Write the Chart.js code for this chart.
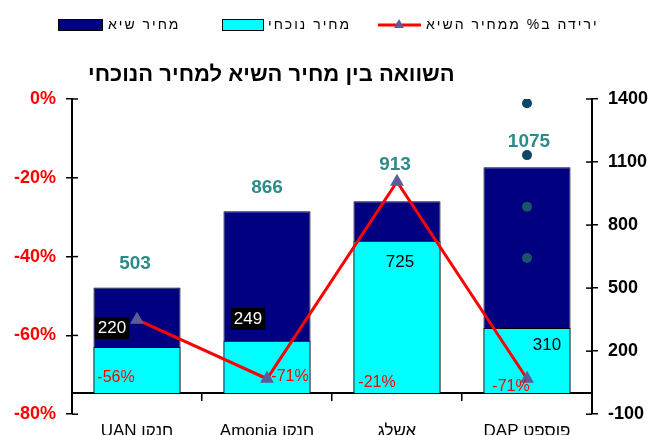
<!DOCTYPE html>
<html>

<head>
    <meta charset="utf-8">
    <title>השוואה בין מחיר השיא למחיר הנוכחי</title>
    <script src="https://cdn.jsdelivr.net/npm/chart.js"></script>
    <style>
        body { margin: 0; background: #fff; }
    </style>
</head>

<body>
    <canvas id="myChart" width="650" height="435"></canvas>
    <script>
        // chart data
        const categories = ['UAN חנקן', 'Amonia חנקן', 'אשלג', 'DAP פוספט'];
        const peakPrice = [503, 866, 913, 1075];
        const currentPrice = [220, 249, 725, 310];
        const dropPct = [-56, -71, -21, -71];
        // the four stray markers standing in the last column
        const strayDots = [1380, 1133, 887, 643];
        const pctTicks = [0, -20, -40, -60, -80];
        const priceTicks = [1400, 1100, 800, 500, 200, -100];

        const FONT = '"Liberation Sans", "DejaVu Sans", Arial, sans-serif';

        // hand placed label offsets (dx, dy) like in the original sheet
        const peakShift = [[-2, -24], [0, -23], [-2, -37], [2, -26]];
        const currentShift = [[-25, -19], [-19, -22], [3, 21], [20, 17]];
        const pctShift = [[-21, 58], [23, -2], [-20, 201], [-16, 8]];

        const labelPlugin = {
            id: 'labelPlugin',
            afterDatasetsDraw(chart) {
                const ctx = chart.ctx;
                ctx.save();
                ctx.textAlign = 'center';
                ctx.textBaseline = 'middle';

                // peak price labels
                ctx.font = 'bold 19px ' + FONT;
                ctx.fillStyle = '#2e8b8b';
                chart.getDatasetMeta(0).data.forEach((bar, i) => {
                    ctx.fillText(peakPrice[i], bar.x + peakShift[i][0], bar.y + peakShift[i][1]);
                });

                // current price labels, first two sit in a black box
                ctx.font = '17px ' + FONT;
                chart.getDatasetMeta(1).data.forEach((bar, i) => {
                    const x = bar.x + currentShift[i][0];
                    const y = bar.y + currentShift[i][1];
                    const txt = String(currentPrice[i]);
                    if (i < 2) {
                        const w = ctx.measureText(txt).width;
                        ctx.fillStyle = '#000';
                        ctx.fillRect(x - w / 2 - 3, y - 11, w + 6, 22);
                        ctx.fillStyle = '#fff';
                    } else {
                        ctx.fillStyle = '#000';
                    }
                    ctx.fillText(txt, x, y);
                });

                // percent labels
                ctx.font = '16px ' + FONT;
                ctx.fillStyle = '#ff0000';
                chart.getDatasetMeta(2).data.forEach((pt, i) => {
                    ctx.fillText(dropPct[i] + '%', pt.x + pctShift[i][0], pt.y + pctShift[i][1]);
                });

                // inner half of the crossing ticks on both value axes
                ctx.strokeStyle = '#000';
                ctx.lineWidth = 1.5;
                const yl = chart.scales.yL, yr = chart.scales.yR;
                yl.ticks.forEach((t, i) => {
                    const y = yl.getPixelForTick(i);
                    ctx.beginPath(); ctx.moveTo(yl.right, y); ctx.lineTo(yl.right + 6, y); ctx.stroke();
                });
                yr.ticks.forEach((t, i) => {
                    const y = yr.getPixelForTick(i);
                    ctx.beginPath(); ctx.moveTo(yr.left - 6, y); ctx.lineTo(yr.left, y); ctx.stroke();
                });
                ctx.restore();
            },
            afterDraw(chart) {
                const ctx = chart.ctx;
                ctx.save();
                ctx.textBaseline = 'middle';
                ctx.textAlign = 'left';
                ctx.strokeStyle = '#000';
                ctx.lineWidth = 1;

                // legend
                ctx.font = '14px ' + FONT;
                ctx.letterSpacing = '2px';
                ctx.fillStyle = '#000080';
                ctx.fillRect(58, 19, 44, 11);
                ctx.strokeRect(58.5, 19.5, 44, 11);
                ctx.fillStyle = '#000';
                ctx.fillText('מחיר שיא', 108, 25);

                ctx.fillStyle = '#00ffff';
                ctx.fillRect(222, 19, 41, 11);
                ctx.strokeRect(222.5, 19.5, 41, 11);
                ctx.fillStyle = '#000';
                ctx.fillText('מחיר נוכחי', 268, 25);

                ctx.strokeStyle = '#ff0000';
                ctx.lineWidth = 3;
                ctx.beginPath(); ctx.moveTo(378, 25); ctx.lineTo(421, 25); ctx.stroke();
                ctx.fillStyle = '#5c5c9a';
                ctx.beginPath(); ctx.moveTo(399, 19); ctx.lineTo(404, 28); ctx.lineTo(394, 28); ctx.closePath(); ctx.fill();
                ctx.fillStyle = '#000';
                ctx.fillText('ירידה ב% ממחיר השיא', 426, 25);

                // title
                ctx.letterSpacing = '0px';
                ctx.font = 'bold 22px ' + FONT;
                ctx.fillText('השוואה בין מחיר השיא למחיר הנוכחי', 88, 75);
                ctx.restore();
            }
        };

        const config = {
            data: {
                labels: categories,
                datasets: [{
                    type: 'bar',
                    label: 'מחיר שיא',
                    data: peakPrice,
                    yAxisID: 'yR',
                    grouped: false,
                    order: 4,
                    backgroundColor: '#000080',
                    borderColor: '#000',
                    borderWidth: 1,
                    barPercentage: 0.67,
                    categoryPercentage: 1
                }, {
                    type: 'bar',
                    label: 'מחיר נוכחי',
                    data: currentPrice,
                    yAxisID: 'yR',
                    grouped: false,
                    order: 3,
                    backgroundColor: '#00ffff',
                    borderColor: '#000',
                    borderWidth: 1,
                    barPercentage: 0.67,
                    categoryPercentage: 1
                }, {
                    type: 'line',
                    label: 'ירידה ב% ממחיר השיא',
                    data: dropPct,
                    yAxisID: 'yL',
                    order: 1,
                    borderColor: '#ff0000',
                    borderWidth: 3,
                    tension: 0,
                    pointStyle: 'triangle',
                    pointRadius: 5,
                    pointBackgroundColor: '#5c5c9a',
                    pointBorderColor: '#5c5c9a'
                }, {
                    type: 'line',
                    label: 'dots',
                    data: strayDots.map(v => ({ x: categories[3], y: v })),
                    yAxisID: 'yR',
                    order: 0,
                    showLine: false,
                    pointRadius: 5,
                    pointBackgroundColor: ['#0b4766', '#0b4766', '#1a5566', '#1a5566'],
                    pointBorderWidth: 0
                }]
            },
            options: {
                responsive: false,
                animation: false,
                layout: { padding: { top: 99, bottom: 11 } },
                plugins: {
                    legend: { display: false },
                    title: { display: false },
                    tooltip: { enabled: false }
                },
                scales: {
                    x: {
                        type: 'category',
                        position: { yR: 0 },
                        offset: true,
                        grid: { drawOnChartArea: false, offset: true, tickLength: 7, color: '#000', lineWidth: 1.5 },
                        border: { color: '#000', width: 2 },
                        ticks: { color: '#000', font: { family: FONT, size: 17 }, padding: 21, maxRotation: 0 }
                    },
                    yL: {
                        type: 'linear',
                        position: 'left',
                        min: -80,
                        max: 0,
                        afterBuildTicks: s => { s.ticks = pctTicks.map(v => ({ value: v })); },
                        afterFit: s => { s.width = 72; },
                        grid: { drawOnChartArea: false, tickLength: 6, color: '#000', lineWidth: 1.5 },
                        border: { color: '#000', width: 2 },
                        ticks: {
                            color: '#ff0000',
                            padding: 10,
                            font: { family: FONT, size: 18, weight: 'bold' },
                            callback: v => v + '%'
                        }
                    },
                    yR: {
                        type: 'linear',
                        position: 'right',
                        min: -100,
                        max: 1400,
                        afterBuildTicks: s => { s.ticks = priceTicks.map(v => ({ value: v })); },
                        afterFit: s => { s.width = 58; },
                        grid: { drawOnChartArea: false, tickLength: 6, color: '#000', lineWidth: 1.5 },
                        border: { color: '#000', width: 2 },
                        ticks: {
                            color: '#000',
                            padding: 10,
                            font: { family: FONT, size: 18, weight: 'bold' },
                            callback: v => String(v)
                        }
                    }
                }
            },
            plugins: [labelPlugin]
        };

        const myChart = new Chart(document.getElementById('myChart'), config);
    </script>
</body>

</html>
